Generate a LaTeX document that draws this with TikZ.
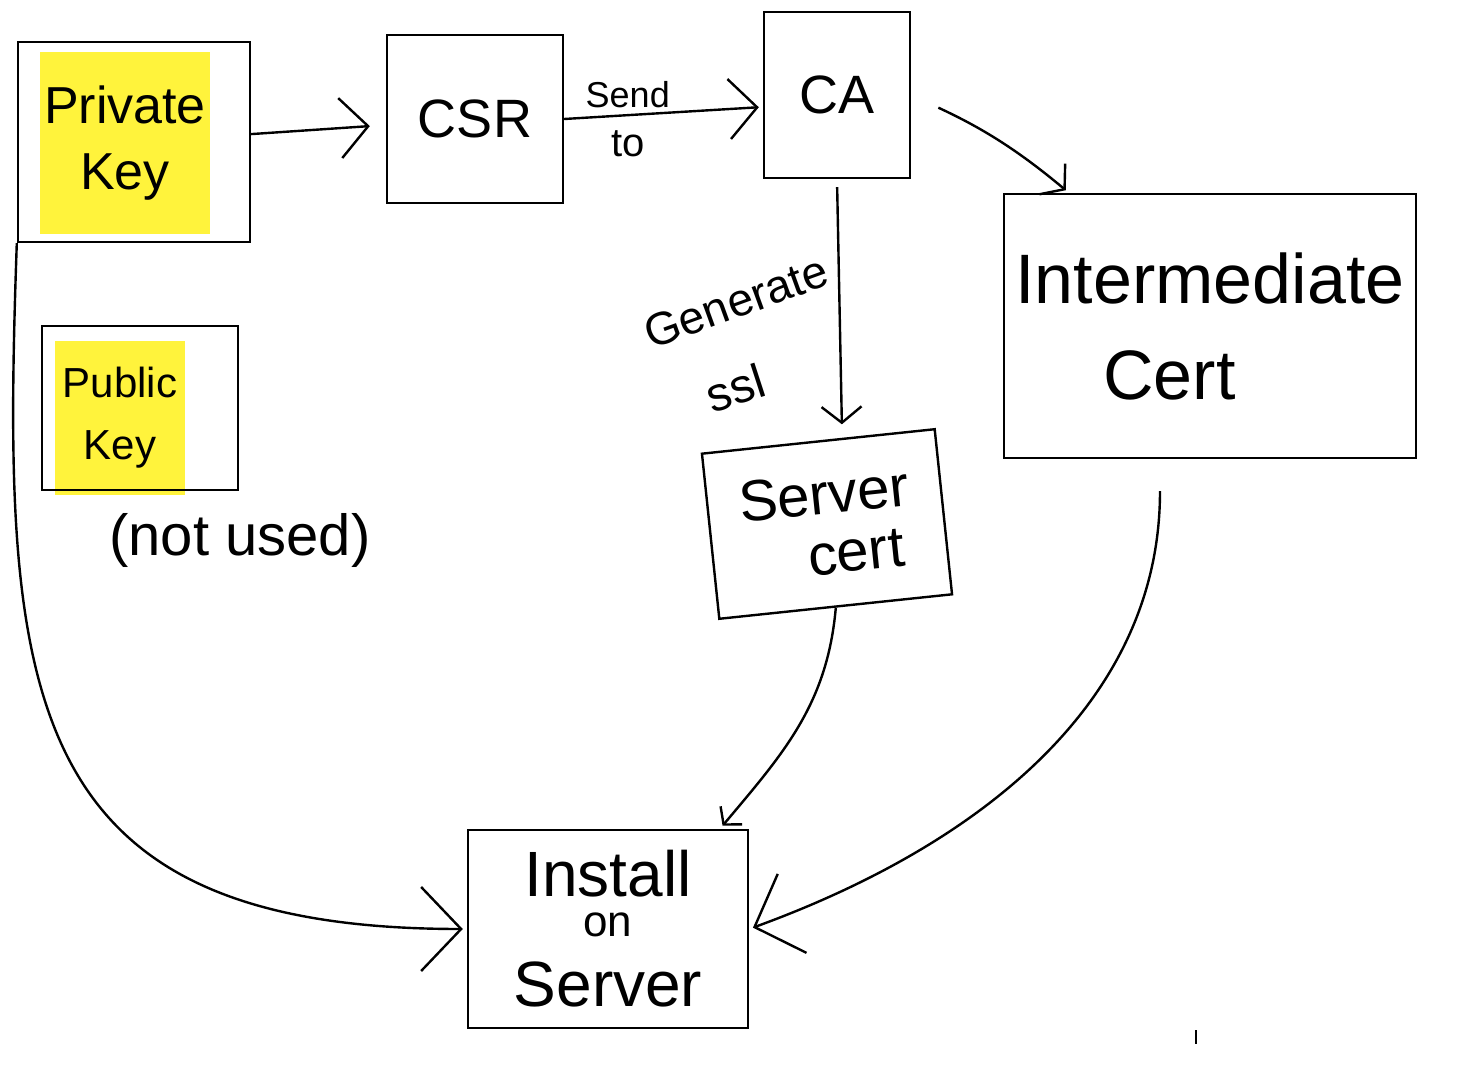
\documentclass[tikz,border=0pt]{standalone}
\usepackage{fontspec}
\setmainfont{Liberation Sans}
\usetikzlibrary{arrows.meta, positioning}
\definecolor{marker}{RGB}{255,243,60}
\tikzset{
  box/.style={draw, line width=1.2pt, inner sep=0pt, align=center},
  hl/.style={fill=marker, inner sep=0pt, align=center},
  lbl/.style={inner sep=0pt, align=center},
  bighead/.style={-{Straight Barb[length=20pt,width=42pt]}},
  midhead/.style={-{Straight Barb[length=8pt,width=20pt]}},
  smallhead/.style={-{Straight Barb[length=6pt,width=14pt]}}
}

\begin{document}
\begin{tikzpicture}[x=0.5pt, y=-0.5pt, ->, >={Straight Barb[length=14pt,width=30pt]},
                    shorten >=2pt, line width=1.2pt]
\useasboundingbox (0,0) rectangle (1474,1070);
% keys
\node[hl, minimum width=85pt, minimum height=91pt, font=\fontsize{26}{33}\selectfont] (privtxt) at (125,143) {Private\\Key};
\node[box, minimum width=116pt, minimum height=100pt] (priv) at (134,142) {};
\node[hl, minimum width=65pt, minimum height=77pt, font=\fontsize{21}{31}\selectfont] (pubtxt) at (120,418) {Public\\Key};
\node[box, minimum width=98pt, minimum height=82pt] (pub) at (140,408) {};
\node[lbl, font=\fontsize{29}{34}\selectfont] (notused) at (240,540) {(not used)};
% csr, ca
\node[box, minimum width=88pt, minimum height=84pt, font=\fontsize{27}{32}\selectfont] (csr) at (475,119) {CSR};
\node[box, minimum width=73pt, minimum height=83pt, font=\fontsize{27}{32}\selectfont] (ca) at (837,95) {CA};
% certs
\node[box, minimum width=206pt, minimum height=132pt, align=left, font=\fontsize{35}{48}\selectfont] (inter) at (1210,326) {Intermediate\\\hspace*{44pt}Cert};
\node[box, rotate=6, minimum width=117pt, minimum height=83pt, font=\fontsize{29}{30}\selectfont] (srv) at (827,524) {Server\\\hspace*{26pt}cert};
\node[box, minimum width=140pt, minimum height=99pt, font=\fontsize{32}{34}\selectfont] (inst) at (608,929)
  {Install\\[-14pt]{\fontsize{22}{26}\selectfont on}\\[1pt]Server};
\node[lbl, rotate=20, font=\fontsize{23}{26}\selectfont] (gen) at (736,302) {Generate};
\node[lbl, rotate=18, font=\fontsize{24}{26}\selectfont] (ssl) at (735,388) {ssl};
\coordinate (tick) at (1196,1030);

\path[->]
    (priv) edge[shorten >=8pt] (csr)
    (csr.east) edge node[lbl, pos=0.32, above=3pt, font=\fontsize{18}{20}\selectfont] {Send}
               node[lbl, pos=0.32, below=7pt, font=\fontsize{20}{22}\selectfont] {to} ([yshift=-6pt]ca.west)
    (ca.east) edge[out=-25, in=140, shorten <=15pt, midhead] ([xshift=33pt]inter.north west)
    (ca.south) edge[shorten <=4pt, shorten >=8pt, midhead] ([xshift=12pt]srv.north)
    (srv.south) edge[out=-95, in=50, smallhead] ([xshift=56pt]inst.north)
    ([xshift=-25pt]inter.south) edge[out=-90, in=20, shorten <=16pt, bighead] (inst.east)
    (priv.south west) edge[out=-92, in=180, looseness=1.4, bighead] (inst.west);
\draw[-, line width=1pt] (tick) -- ++(0,18);
\end{tikzpicture}
\end{document}
